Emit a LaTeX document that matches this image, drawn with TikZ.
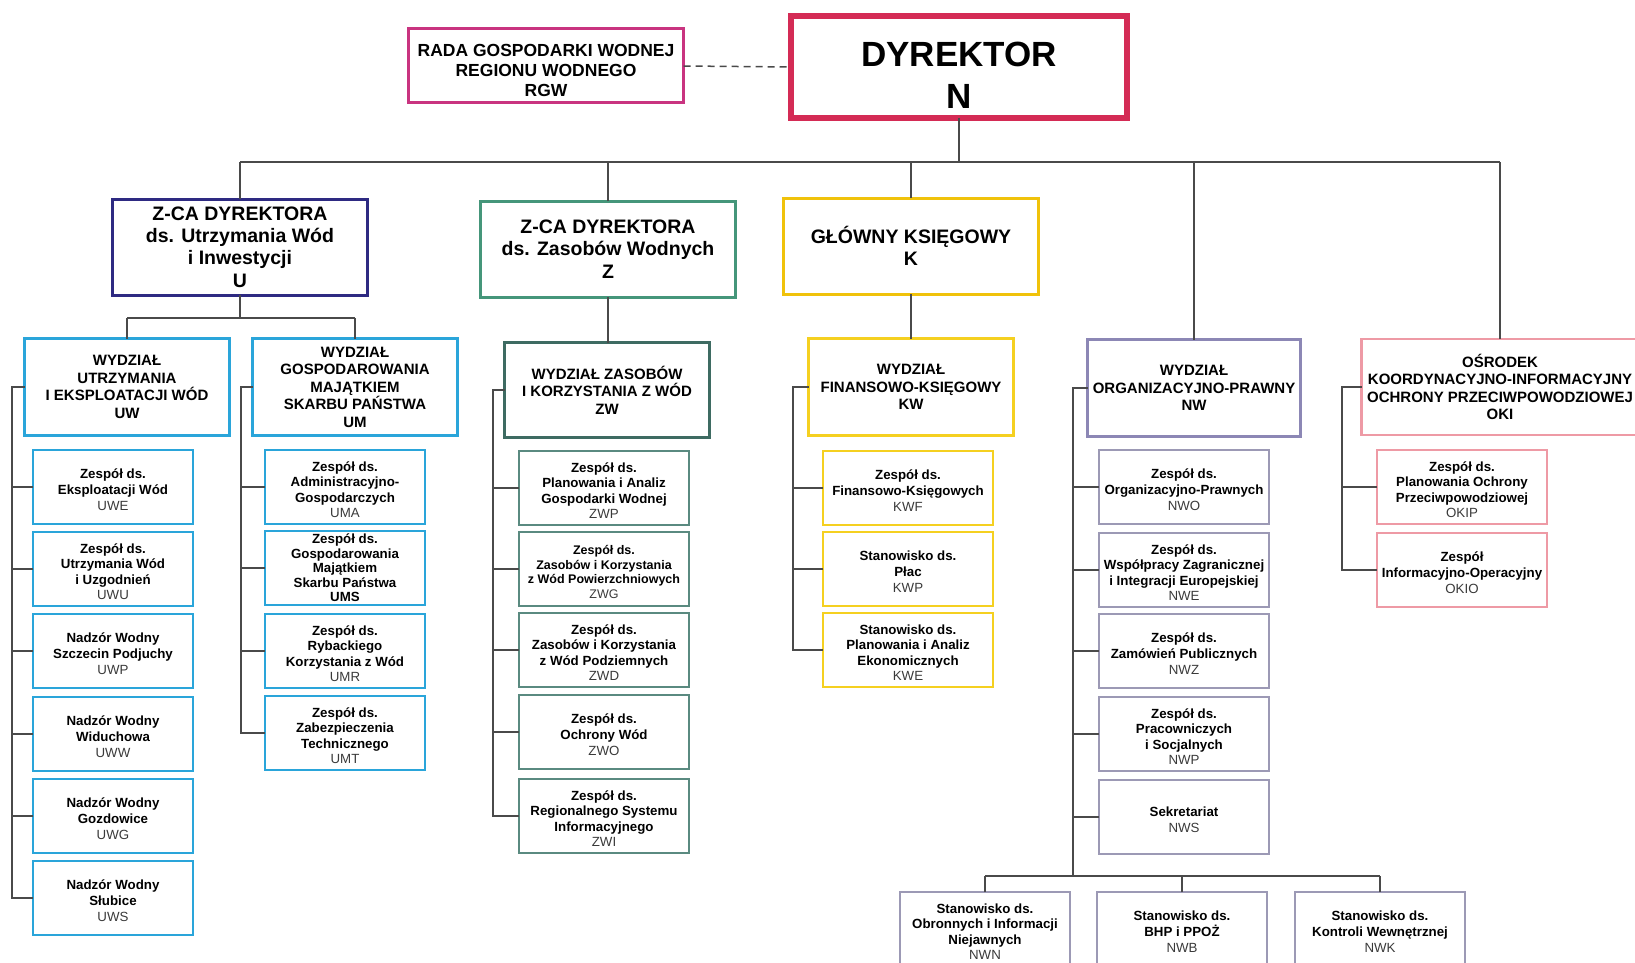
\documentclass[tikz,border=0pt]{standalone}
\usepackage{fontspec}
\setmainfont{Liberation Sans}
\definecolor{dyrc}{HTML}{D42B55}
\definecolor{rgwc}{HTML}{C93480}
\definecolor{uc}{HTML}{2E2A82}
\definecolor{ubl}{HTML}{2AA5DA}
\definecolor{zc}{HTML}{45967A}
\definecolor{zwc}{HTML}{3E6B62}
\definecolor{zwk}{HTML}{5A8A80}
\definecolor{kc}{HTML}{F0C20A}
\definecolor{kwc}{HTML}{F5D020}
\definecolor{nwc}{HTML}{8C87B5}
\definecolor{nwk}{HTML}{9C99B5}
\definecolor{okic}{HTML}{EE9AA5}
\definecolor{linec}{HTML}{4A4A4A}
\definecolor{codec}{HTML}{3A3A3A}
\newcommand{\cd}[1]{{\mdseries\color{codec}#1}}
\newcommand{\st}{\rule{0pt}{15pt}}
\tikzset{
  box/.style={draw, inner sep=0pt, outer sep=0pt, align=center, fill=white},
  topbox/.style={box, line width=3pt, font=\bfseries\fontsize{19.5}{22.4}\selectfont},
  depbox/.style={box, line width=2.7pt, font=\bfseries\fontsize{15}{17.5}\selectfont},
  kidbox/.style={box, line width=2pt, font=\bfseries\fontsize{13.3}{15.6}\selectfont},
  conn/.style={draw=linec, line width=2pt},
}
\begin{document}
\begin{tikzpicture}[x=1pt,y=-1pt]
\clip (0,0) rectangle (1635,963);
\fill[white] (0,0) rectangle (1635,963);
% top
\node[box, draw=rgwc, line width=3pt, minimum width=275, minimum height=74,
  font=\bfseries\fontsize{17.5}{20.4}\selectfont] (rgw) at (546,66)
  {\rule{0pt}{21pt}RADA GOSPODARKI WODNEJ\\REGIONU WODNEGO\\RGW};
\node[box, draw=dyrc, line width=6pt, minimum width=336, minimum height=102,
  font=\bfseries\fontsize{35}{42}\selectfont] (dyr) at (959,67) {\rule{0pt}{41pt}DYREKTOR\\N};
% level 2
\node[topbox, draw=uc, minimum width=255, minimum height=96] (u) at (240,247)
  {Z-CA DYREKTORA\\ds. Utrzymania Wód\\i Inwestycji\\U};
\node[topbox, draw=zc, minimum width=255, minimum height=96] (z) at (608,249)
  {Z-CA DYREKTORA\\ds. Zasobów Wodnych\\Z};
\node[topbox, draw=kc, minimum width=255, minimum height=96] (k) at (911,246)
  {GŁÓWNY KSIĘGOWY\\K};
% level 3
\node[depbox, draw=ubl, minimum width=205, minimum height=97] (uw) at (127,387)
  {WYDZIAŁ\\UTRZYMANIA\\I EKSPLOATACJI WÓD\\UW};
\node[depbox, draw=ubl, minimum width=205, minimum height=97] (um) at (355,387)
  {WYDZIAŁ\\GOSPODAROWANIA\\MAJĄTKIEM\\SKARBU PAŃSTWA\\UM};
\node[depbox, draw=zwc, minimum width=205, minimum height=95] (zw) at (607,390)
  {WYDZIAŁ ZASOBÓW\\I KORZYSTANIA Z WÓD\\ZW};
\node[depbox, draw=kwc, minimum width=205, minimum height=97] (kw) at (911,387)
  {WYDZIAŁ\\FINANSOWO-KSIĘGOWY\\KW};
\node[depbox, draw=nwc, minimum width=213, minimum height=97] (nw) at (1194,388)
  {WYDZIAŁ\\ORGANIZACYJNO-PRAWNY\\NW};
\node[depbox, draw=okic, minimum width=277, minimum height=96] (oki) at (1500,387)
  {OŚRODEK\\KOORDYNACYJNO-INFORMACYJNY\\OCHRONY PRZECIWPOWODZIOWEJ\\OKI};
% UW children
\node[kidbox, draw=ubl, minimum width=160, minimum height=74] (uwe) at (113,487) {\st Zespół ds.\\Eksploatacji Wód\\\cd{UWE}};
\node[kidbox, draw=ubl, minimum width=160, minimum height=74] (uwu) at (113,569) {\st Zespół ds.\\Utrzymania Wód\\i Uzgodnień\\\cd{UWU}};
\node[kidbox, draw=ubl, minimum width=160, minimum height=74] (uwp) at (113,651) {\st Nadzór Wodny\\Szczecin Podjuchy\\\cd{UWP}};
\node[kidbox, draw=ubl, minimum width=160, minimum height=74] (uww) at (113,734) {\st Nadzór Wodny\\Widuchowa\\\cd{UWW}};
\node[kidbox, draw=ubl, minimum width=160, minimum height=74] (uwg) at (113,816) {\st Nadzór Wodny\\Gozdowice\\\cd{UWG}};
\node[kidbox, draw=ubl, minimum width=160, minimum height=74] (uws) at (113,898) {\st Nadzór Wodny\\Słubice\\\cd{UWS}};
% UM children
\node[kidbox, draw=ubl, minimum width=160, minimum height=74] (uma) at (345,487) {\st Zespół ds.\\Administracyjno-\\Gospodarczych\\\cd{UMA}};
\node[kidbox, draw=ubl, minimum width=160, minimum height=74, font=\bfseries\fontsize{13.3}{14.5}\selectfont] (ums) at (345,568) {Zespół ds.\\Gospodarowania\\Majątkiem\\Skarbu Państwa\\UMS};
\node[kidbox, draw=ubl, minimum width=160, minimum height=74] (umr) at (345,651) {\st Zespół ds.\\Rybackiego\\Korzystania z Wód\\\cd{UMR}};
\node[kidbox, draw=ubl, minimum width=160, minimum height=74] (umt) at (345,733) {\st Zespół ds.\\Zabezpieczenia\\Technicznego\\\cd{UMT}};
% ZW children
\node[kidbox, draw=zwk, minimum width=170, minimum height=74] (zwp) at (604,488) {\st Zespół ds.\\Planowania i Analiz\\Gospodarki Wodnej\\\cd{ZWP}};
\node[kidbox, draw=zwk, minimum width=170, minimum height=74, font=\bfseries\fontsize{12.5}{14.8}\selectfont] (zwg) at (604,569) {\st Zespół ds.\\Zasobów i Korzystania\\z Wód Powierzchniowych\\\cd{ZWG}};
\node[kidbox, draw=zwk, minimum width=170, minimum height=74] (zwd) at (604,650) {\st Zespół ds.\\Zasobów i Korzystania\\z Wód Podziemnych\\\cd{ZWD}};
\node[kidbox, draw=zwk, minimum width=170, minimum height=74] (zwo) at (604,732) {\st Zespół ds.\\Ochrony Wód\\\cd{ZWO}};
\node[kidbox, draw=zwk, minimum width=170, minimum height=74] (zwi) at (604,816) {\st Zespół ds.\\Regionalnego Systemu\\Informacyjnego\\\cd{ZWI}};
% KW children
\node[kidbox, draw=kwc, minimum width=170, minimum height=74] (kwf) at (908,488) {\st Zespół ds.\\Finansowo-Księgowych\\\cd{KWF}};
\node[kidbox, draw=kwc, minimum width=170, minimum height=74] (kwp) at (908,569) {\st Stanowisko ds.\\Płac\\\cd{KWP}};
\node[kidbox, draw=kwc, minimum width=170, minimum height=74] (kwe) at (908,650) {\st Stanowisko ds.\\Planowania i Analiz\\Ekonomicznych\\\cd{KWE}};
% NW children
\node[kidbox, draw=nwk, minimum width=170, minimum height=74] (nwo) at (1184,487) {\st Zespół ds.\\Organizacyjno-Prawnych\\\cd{NWO}};
\node[kidbox, draw=nwk, minimum width=170, minimum height=74] (nwe) at (1184,570) {\st Zespół ds.\\Współpracy Zagranicznej\\i Integracji Europejskiej\\\cd{NWE}};
\node[kidbox, draw=nwk, minimum width=170, minimum height=74] (nwz) at (1184,651) {\st Zespół ds.\\Zamówień Publicznych\\\cd{NWZ}};
\node[kidbox, draw=nwk, minimum width=170, minimum height=74] (nwp) at (1184,734) {\st Zespół ds.\\Pracowniczych\\i Socjalnych\\\cd{NWP}};
\node[kidbox, draw=nwk, minimum width=170, minimum height=74] (nws) at (1184,817) {\st Sekretariat\\\cd{NWS}};
% OKI children
\node[kidbox, draw=okic, minimum width=170, minimum height=74] (okip) at (1462,487) {\st Zespół ds.\\Planowania Ochrony\\Przeciwpowodziowej\\\cd{OKIP}};
\node[kidbox, draw=okic, minimum width=170, minimum height=74] (okio) at (1462,570) {\st Zespół\\Informacyjno-Operacyjny\\\cd{OKIO}};
% bottom row
\node[kidbox, draw=nwk, minimum width=170, minimum height=74] (nwn) at (985,929) {\st Stanowisko ds.\\Obronnych i Informacji\\Niejawnych\\\cd{NWN}};
\node[kidbox, draw=nwk, minimum width=170, minimum height=74] (nwb) at (1182,929) {\st Stanowisko ds.\\BHP i PPOŻ\\\cd{NWB}};
\node[kidbox, draw=nwk, minimum width=170, minimum height=74] (nwk) at (1380,929) {\st Stanowisko ds.\\Kontroli Wewnętrznej\\\cd{NWK}};
% coordinates
\coordinate (bus) at (0,162);
\coordinate (ubus) at (0,318);
\coordinate (uwx) at (12,0);
\coordinate (umx) at (241,0);
\coordinate (zwx) at (493,0);
\coordinate (kwx) at (793,0);
\coordinate (nwx) at (1073,0);
\coordinate (okx) at (1342,0);
\coordinate (nbus) at (0,876);
% connectors
\draw[conn, dashed, dash pattern=on 7pt off 5pt, line width=1.5pt] (rgw.east) -- (dyr.west);
\draw[conn] (dyr.south) -- (dyr.south |- bus);
\draw[conn] (u.north |- bus) -- (oki.north |- bus);
\foreach \n in {u,z,k,nw,oki} \draw[conn] (\n.north) -- (\n.north |- bus);
\draw[conn] (u.south) -- (u.south |- ubus);
\draw[conn] (uw.north |- ubus) -- (um.north |- ubus);
\draw[conn] (uw.north) -- (uw.north |- ubus);
\draw[conn] (um.north) -- (um.north |- ubus);
\draw[conn] (z.south) -- (zw.north -| z.south);
\draw[conn] (k.south) -- (kw.north -| k.south);
% brackets
\draw[conn] (uw.west) -- (uw.west -| uwx) -- (uws.west -| uwx) -- (uws.west);
\foreach \n in {uwe,uwu,uwp,uww,uwg} \draw[conn] (\n.west) -- (\n.west -| uwx);
\draw[conn] (um.west) -- (um.west -| umx) -- (umt.west -| umx) -- (umt.west);
\foreach \n in {uma,ums,umr} \draw[conn] (\n.west) -- (\n.west -| umx);
\draw[conn] (zw.west) -- (zw.west -| zwx) -- (zwi.west -| zwx) -- (zwi.west);
\foreach \n in {zwp,zwg,zwd,zwo} \draw[conn] (\n.west) -- (\n.west -| zwx);
\draw[conn] (kw.west) -- (kw.west -| kwx) -- (kwe.west -| kwx) -- (kwe.west);
\foreach \n in {kwf,kwp} \draw[conn] (\n.west) -- (\n.west -| kwx);
\draw[conn] (oki.west) -- (oki.west -| okx) -- (okio.west -| okx) -- (okio.west);
\draw[conn] (okip.west) -- (okip.west -| okx);
\draw[conn] (nw.west) -- (nw.west -| nwx) -- (nwx |- nbus);
\foreach \n in {nwo,nwe,nwz,nwp,nws} \draw[conn] (\n.west) -- (\n.west -| nwx);
\draw[conn] (nwn.north |- nbus) -- (nwk.north |- nbus);
\foreach \n in {nwn,nwb,nwk} \draw[conn] (\n.north) -- (\n.north |- nbus);
\end{tikzpicture}
\end{document}
